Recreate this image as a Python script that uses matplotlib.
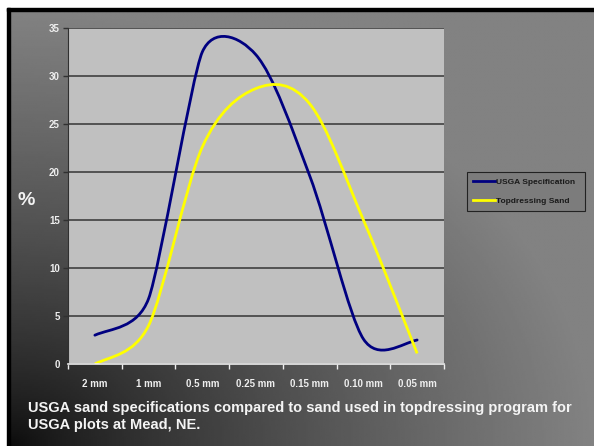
import matplotlib
matplotlib.use("Agg")
import matplotlib.pyplot as plt
import numpy as np
from matplotlib.path import Path
from matplotlib.patches import PathPatch, Rectangle
from matplotlib.lines import Line2D

plt.rcParams["font.family"] = ["Liberation Sans", "DejaVu Sans"]
plt.rcParams["font.weight"] = "bold"

# --- data ---
sizes = ["2 mm", "1 mm", "0.5 mm", "0.25 mm", "0.15 mm", "0.10 mm", "0.05 mm"]
usga_spec = [3.0, 6.8, 32.5, 32.2, 19.6, 2.6, 2.5]
topdressing = [0.0, 4.0, 22.6, 28.7, 27.1, 15.0, 1.1]

W, H = 594, 446
fig = plt.figure(figsize=(W / 100, H / 100), dpi=100)

# background: white margin, black frame, dark-to-grey gradient
bg = fig.add_axes([0, 0, 1, 1])
bg.set_xlim(0, W)
bg.set_ylim(H, 0)
bg.axis("off")
gx, gy = np.meshgrid(np.linspace(0, 1, 300), np.linspace(0, 1, 230))
dist = np.sqrt(gx ** 2 + (1 - gy) ** 2)
grad = 0.04 + 0.47 * np.clip(dist, 0, 1) ** 0.75
bg.imshow(grad, cmap="gray", vmin=0, vmax=1, extent=[8, W, H, 9],
          aspect="auto", interpolation="bilinear")
bg.add_patch(Rectangle((0, 0), W, 8, color="white"))
bg.add_patch(Rectangle((0, 0), 7, H, color="white"))
bg.add_patch(Rectangle((7, 8), W, 3, color="black"))
bg.add_patch(Rectangle((7, 8), 3, H, color="black"))

# plot area
ax = fig.add_axes([68 / W, 1 - 364 / H, 376 / W, 336 / H])
ax.set_facecolor("#c0c0c0")
ax.set_xlim(-0.5, len(sizes) - 0.5)
ax.set_ylim(0, 35)

ax.set_yticks(np.arange(0, 36, 5))
ax.yaxis.grid(True, color="#404040", linewidth=1.2)
ax.set_axisbelow(True)
ax.tick_params(axis="y", colors="#303030", labelcolor="#eeeeee",
               labelsize=7, length=3.5, width=1, pad=2.5)

ax.set_xticks(np.arange(-0.5, len(sizes), 1))
ax.set_xticklabels([])
ax.set_xticks(np.arange(len(sizes)), minor=True)
ax.set_xticklabels(sizes, minor=True)
ax.tick_params(axis="x", which="major", colors="#eeeeee", length=3.5, width=1)
ax.tick_params(axis="x", which="minor", length=0, labelcolor="#eeeeee",
               labelsize=7, pad=11)

for s in ["top", "right"]:
    ax.spines[s].set_visible(False)
ax.spines["left"].set_color("#303030")
ax.spines["bottom"].set_color("#eeeeee")
ax.spines["bottom"].set_linewidth(1.2)

ax.set_ylabel("%", rotation=0, fontsize=14, color="#f2f2f2",
              fontweight="bold", ha="center", va="center")
ax.yaxis.set_label_coords(-0.112, 0.488)


def smooth_path(xs, ys):
    # Excel-style smoothed line: Bezier segments, computed in pixel space,
    # control arms capped at half the shorter neighbouring segment
    bb = ax.bbox
    sx = bb.width / (ax.get_xlim()[1] - ax.get_xlim()[0])
    sy = bb.height / (ax.get_ylim()[1] - ax.get_ylim()[0])
    P = np.column_stack([np.asarray(xs, float) * sx, np.asarray(ys, float) * sy])
    n = len(P)
    cin = P.copy()
    cout = P.copy()
    for i in range(1, n - 1):
        T = (P[i + 1] - P[i - 1]) / 6
        dp = np.linalg.norm(P[i] - P[i - 1])
        dn = np.linalg.norm(P[i + 1] - P[i])
        f = min(1, min(dp, dn) / 2 / np.linalg.norm(T))
        cin[i] = P[i] - T * f
        cout[i] = P[i] + T * f
    cout[0] = P[0] + ((P[1] - P[0]) + (cin[1] - P[0])) / 6
    cin[-1] = P[-1] - ((P[-1] - P[-2]) + (P[-1] - cout[-2])) / 6
    verts = [P[0]]
    codes = [Path.MOVETO]
    for i in range(n - 1):
        verts += [cout[i], cin[i + 1], P[i + 1]]
        codes += [Path.CURVE4] * 3
    verts = np.array(verts) / [sx, sy]
    return Path(verts, codes)


xpos = np.arange(len(sizes))
ax.add_patch(PathPatch(smooth_path(xpos, usga_spec), fill=False,
                       edgecolor="#000080", linewidth=2.0, capstyle="round"))
ax.add_patch(PathPatch(smooth_path(xpos, topdressing), fill=False,
                       edgecolor="#ffff00", linewidth=2.0, capstyle="butt"))

handles = [Line2D([], [], color="#000080", linewidth=2.0),
           Line2D([], [], color="#ffff00", linewidth=2.0)]
leg = fig.legend(handles, ["USGA Specification", "Topdressing Sand"],
                 loc="upper left",
                 bbox_to_anchor=(467 / W, 1 - 213 / H, 118 / W, 41 / H),
                 mode="expand", borderaxespad=0, fontsize=6,
                 handlelength=2.6, handletextpad=0.1, labelspacing=1.35,
                 borderpad=0.75, fancybox=False, framealpha=1)
leg.get_frame().set_facecolor("#7c7c7c")
leg.get_frame().set_edgecolor("#222222")
leg.get_frame().set_linewidth(0.8)
for t in leg.get_texts():
    t.set_color("#1a1a1a")
    t.set_fontweight("bold")

fig.text(28 / W, 1 - 401 / H,
         "USGA sand specifications compared to sand used in topdressing program for\n"
         "USGA plots at Mead, NE.",
         ha="left", va="top", fontsize=10.5, color="#f4f4f4",
         fontweight="bold", linespacing=1.3)

fig.savefig("out.png", dpi=100)
